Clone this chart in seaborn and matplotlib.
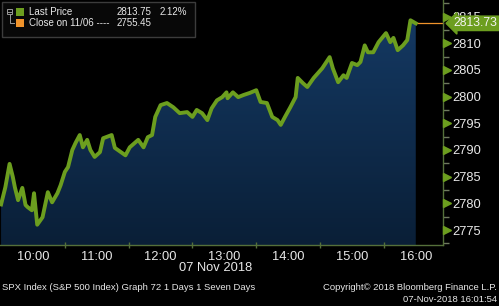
import matplotlib
matplotlib.use("Agg")
import matplotlib.pyplot as plt
import matplotlib.patches as mpatches
from matplotlib.colors import LinearSegmentedColormap
import numpy as np
import pandas as pd
import seaborn as sns

# ---- data (minutes after 09:30, SPX price) ----
minutes = [0, 4, 8, 11, 13, 16, 20, 23, 25, 29, 31, 34, 39, 44, 48, 53, 56, 60, 63,
           67, 70, 74, 77, 81, 84, 88, 93, 96, 104, 107, 117, 121, 129, 134, 138, 142,
           145, 150, 156, 162, 168, 175, 180, 184, 189, 194, 198, 203, 208, 212, 213,
           218, 223, 228, 234, 240, 244, 250, 255, 260, 263, 267, 272, 277, 279, 284,
           288, 294, 302, 309, 312, 317, 322, 325, 330, 335, 338, 342, 345, 350, 355,
           362, 366, 369, 373, 378, 382, 385, 390]
prices = [2779.8, 2783.0, 2787.4, 2785.0, 2783.0, 2780.6, 2782.9, 2779.7, 2779.3,
          2778.7, 2781.9, 2776.0, 2777.4, 2782.1, 2780.2, 2781.9, 2783.4, 2785.9,
          2786.8, 2790.0, 2791.3, 2792.8, 2790.5, 2791.9, 2790.0, 2788.7, 2789.6,
          2792.2, 2792.8, 2790.4, 2789.0, 2790.5, 2791.9, 2790.5, 2792.4, 2792.8,
          2796.2, 2798.4, 2798.8, 2798.0, 2796.9, 2797.1, 2796.2, 2797.5, 2796.9,
          2795.6, 2797.8, 2799.3, 2799.9, 2800.8, 2799.7, 2800.8, 2799.9, 2800.3,
          2800.7, 2801.2, 2799.0, 2798.8, 2796.2, 2795.6, 2794.7, 2796.2, 2798.0,
          2799.9, 2803.5, 2802.5, 2801.8, 2803.5, 2805.3, 2807.4, 2805.3, 2802.7,
          2804.0, 2803.5, 2806.3, 2805.9, 2806.5, 2809.6, 2808.3, 2808.3, 2810.2,
          2811.9, 2810.2, 2811.0, 2808.7, 2809.6, 2810.6, 2814.3, 2813.73]

hour_ticks = [30, 90, 150, 210, 270, 330, 390]
hour_labels = ["10:00", "11:00", "12:00", "13:00", "14:00", "15:00", "16:00"]
half_ticks = [60, 120, 180, 240, 300, 360]
y_major = [2775, 2780, 2785, 2790, 2795, 2800, 2805, 2810, 2815]
y_minor = [2772.5, 2777.5, 2782.5, 2787.5, 2792.5, 2797.5, 2802.5, 2807.5, 2812.5, 2817.5]
last_value = 2813.73

legend_rows = [("Last Price", "2813.75", "2.12%"), ("Close on 11/06 ----", "2755.45", "")]
date_label = "07 Nov 2018"
footer_left = "SPX Index (S&P 500 Index) Graph 72 1 Days 1 Seven Days"
footer_right1 = "Copyright\u00a9 2018 Bloomberg Finance L.P."
footer_right2 = "07-Nov-2018 16:01:54"

df = pd.DataFrame({"minute": minutes, "price": prices})

# ---- style ----
plt.rcParams["font.family"] = ["Liberation Sans", "DejaVu Sans"]
GREEN = "#6c9e1f"
SPINE = "#55703a"
ORANGE = "#f0932b"
TXT = "#e8e8e8"
BG = "#000000"

W, H = 499, 306
fig = plt.figure(figsize=(W / 100, H / 100), dpi=100, facecolor=BG)
ax = fig.add_axes([0, 61 / H, 443 / W, 245 / H])
ax.set_facecolor(BG)

xlo, xhi = -1, 415.6
ylo, yhi = 2772.2, 2818.1

# gradient area
poly = ax.fill_between(df["minute"], df["price"], ylo, facecolor="none", edgecolor="none")
cmap = LinearSegmentedColormap.from_list("g", ["#0a1f37", "#153b66"])
grad = np.linspace(0, 1, 256).reshape(-1, 1)
img = ax.imshow(grad, extent=[xlo, xhi, ylo, yhi], aspect="auto", origin="lower",
                cmap=cmap, zorder=1)
img.set_clip_path(poly.get_paths()[0], transform=ax.transData)

sns.lineplot(data=df, x="minute", y="price", ax=ax, color=GREEN, linewidth=2.8, zorder=3)
ax.plot([df["minute"].iloc[-1], xhi], [last_value, last_value], color=ORANGE,
        linewidth=0.9, zorder=2, clip_on=False)

ax.set_xlim(xlo, xhi)
ax.set_ylim(ylo, yhi)
ax.set_xlabel("")
ax.set_ylabel("")

for s in ["top", "left"]:
    ax.spines[s].set_visible(False)
for s in ["right", "bottom"]:
    ax.spines[s].set_color(SPINE)
    ax.spines[s].set_linewidth(1.0)

ax.set_xticks(hour_ticks)
ax.set_xticklabels(hour_labels)
ax.set_xticks(half_ticks, minor=True)
ax.tick_params(axis="x", which="major", length=0, pad=4, labelsize=9.3, labelcolor=TXT)
ax.tick_params(axis="x", which="minor", length=5, direction="inout", color=SPINE, width=1)

ax.yaxis.tick_right()
ax.set_yticks(y_major)
ax.set_yticks(y_minor, minor=True)
ax.tick_params(axis="y", which="major", length=0, pad=6.5, labelsize=9.3, labelcolor=TXT)
ax.tick_params(axis="y", which="minor", length=4, direction="out", color="#6f7a5f", width=1)
ytr = ax.get_yaxis_transform()
ax.plot([1.009] * len(y_major), y_major, linestyle="none", marker=">", markersize=6,
        color=GREEN, transform=ytr, clip_on=False, zorder=4)

# last price tag
ax.annotate(f"{last_value:.2f}", xy=(1.0, last_value), xycoords=ytr,
            xytext=(1.024, last_value), textcoords=ytr, ha="left", va="center",
            fontsize=8.8, color="#f4f4f4", zorder=10, annotation_clip=False,
            bbox=dict(boxstyle="larrow,pad=0.1", fc=GREEN, ec=GREEN))

# date label
fig.text(216 / W, 1 - 268 / H, date_label, ha="center", va="center", fontsize=9.3, color=TXT)
# footers
fig.text(2 / W, 1 - 287 / H, footer_left, ha="left", va="center", fontsize=6.8, color=TXT)
fig.text(497 / W, 1 - 287 / H, footer_right1, ha="right", va="center", fontsize=6.8, color=TXT)
fig.text(497 / W, 1 - 299 / H, footer_right2, ha="right", va="center", fontsize=6.8, color=TXT)

# legend box
def fx(px):
    return px / W

def fy(py):
    return 1 - py / H

fig.patches.append(mpatches.Rectangle((fx(2), fy(37)), fx(193), 35 / H, transform=fig.transFigure,
                                      fc="#080808", ec="#3c3c3c", lw=1, zorder=20))
# tree icon
fig.patches.append(mpatches.Rectangle((fx(7), fy(14)), fx(5), 5 / H, transform=fig.transFigure,
                                      fc="none", ec="#9a9a9a", lw=0.7, zorder=21))
fig.lines.append(plt.Line2D([fx(8), fx(11)], [fy(11.5), fy(11.5)], transform=fig.transFigure,
                            color="#9a9a9a", lw=0.7, zorder=21))
fig.lines.append(plt.Line2D([fx(9.5), fx(9.5), fx(14)], [fy(14), fy(23), fy(23)],
                            transform=fig.transFigure, color="#9a9a9a", lw=0.7, zorder=21))
row_y = [12, 23]
swatch = [GREEN, ORANGE]
for (label, val, pct), yy, col in zip(legend_rows, row_y, swatch):
    fig.patches.append(mpatches.Rectangle((fx(16), fy(yy + 4)), fx(8), 8 / H,
                                          transform=fig.transFigure, fc=col, ec="none", zorder=21))
    fig.text(fx(29), fy(yy), label, ha="left", va="center", fontsize=7.0, color=TXT, zorder=22)
    fig.text(fx(117), fy(yy), val, ha="left", va="center", fontsize=7.0, color=TXT, zorder=22)
    if pct:
        fig.text(fx(160), fy(yy), pct, ha="left", va="center", fontsize=7.0, color=TXT, zorder=22)

fig.savefig("out.png", dpi=100, facecolor=BG)
